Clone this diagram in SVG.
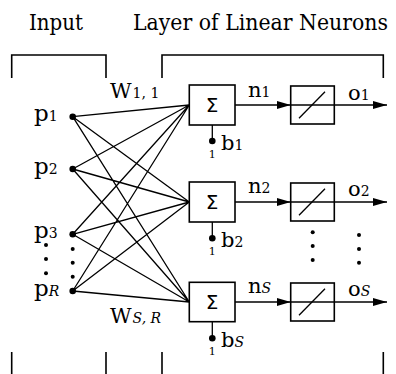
<svg xmlns="http://www.w3.org/2000/svg" width="396" height="374" viewBox="0 0 396 374">
<defs>
<style>
text{font-family:'DejaVu Serif','Liberation Serif',serif;fill:#000}
.big{font-size:23px}
.inp{font-size:23px}
.lab{font-size:21px}
.sub{font-size:14px}
.tiny{font-size:11px}
.it{font-style:italic}
text.sig{font-family:'DejaVu Sans',sans-serif;font-size:20px}
.ln{stroke:#000;stroke-width:1.3;fill:none}
.box{stroke:#000;stroke-width:1.6;fill:#fff}
.br{stroke:#000;stroke-width:1.6;fill:none}
</style>
<marker id="ah" viewBox="0 0 14 8" refX="14" refY="4" markerWidth="14" markerHeight="8" markerUnits="userSpaceOnUse" orient="auto">
<path d="M0,0 L14,4 L0,8 Z" fill="#000"/>
</marker>
</defs>
<rect width="396" height="374" fill="#fff"/>
<g id="titles">
<text class="big" x="29" y="30" textLength="54" lengthAdjust="spacingAndGlyphs">Input</text>
<text class="big" x="133" y="30" textLength="255" lengthAdjust="spacingAndGlyphs">Layer of Linear Neurons</text>
</g>
<g id="brackets">
<path class="br" d="M11.7,78 V55 H106 V78 M162,78 V55 H383.3 V78"/>
<path class="br" d="M11.7,352 V374 M106,352 V374 M162,352 V374 M383.3,352 V374"/>
</g>
<g id="connectors">
<path class="ln" d="M72.7,116.7 L189.3,105 M72.7,116.7 L189.3,202 M72.7,116.7 L189.3,302
M72.7,169 L189.3,105 M72.7,169 L189.3,202 M72.7,169 L189.3,302
M72.7,234.3 L189.3,105 M72.7,234.3 L189.3,202 M72.7,234.3 L189.3,302
M72.7,291 L189.3,105 M72.7,291 L189.3,202 M72.7,291 L189.3,302"/>
<path class="ln" marker-end="url(#ah)" d="M235,105 H290.7"/>
<path class="ln" marker-end="url(#ah)" d="M235,202 H290.7"/>
<path class="ln" marker-end="url(#ah)" d="M235,302 H290.7"/>
<path class="ln" marker-end="url(#ah)" d="M334.3,105 H387"/>
<path class="ln" marker-end="url(#ah)" d="M334.3,202 H387"/>
<path class="ln" marker-end="url(#ah)" d="M334.3,302 H387"/>
<path class="ln" d="M212.3,125 V141 M212.3,222 V238.3 M212.3,321.7 V338.3"/>
</g>
<g id="inputs">
<circle cx="72.7" cy="116.7" r="3.3"/>
<circle cx="72.7" cy="169" r="3.3"/>
<circle cx="72.7" cy="234.3" r="3.3"/>
<circle cx="72.7" cy="291" r="3.3"/>
<circle cx="72.7" cy="249" r="2"/>
<circle cx="72.7" cy="262.7" r="2"/>
<circle cx="72.7" cy="276.7" r="2"/>
<circle cx="46" cy="245" r="2"/>
<circle cx="46" cy="259" r="2"/>
<circle cx="46" cy="273.3" r="2"/>
<text class="inp" x="34" y="121">p<tspan class="sub">1</tspan></text>
<text class="inp" x="34" y="174">p<tspan class="sub">2</tspan></text>
<text class="inp" x="34" y="238">p<tspan class="sub">3</tspan></text>
<text class="inp" x="34" y="296">p<tspan class="sub it">R</tspan></text>
</g>
<g id="weights">
<text class="lab" x="110" y="98">W<tspan class="sub" dx="1">1, 1</tspan></text>
<text class="lab" x="110" y="323">W<tspan class="sub it" dx="1">S, R</tspan></text>
</g>
<g id="neuron1">
<rect class="box" x="189.3" y="85" width="45.7" height="40"/>
<text class="sig" x="212" y="112" text-anchor="middle">Σ</text>
<circle cx="212.3" cy="141" r="3.3"/>
<text class="tiny" x="212.3" y="158" text-anchor="middle">1</text>
<text class="lab" x="221" y="150">b<tspan class="sub">1</tspan></text>
<text class="lab" x="248" y="97">n<tspan class="sub">1</tspan></text>
<rect class="box" x="290.7" y="86" width="43.6" height="38"/>
<path class="ln" d="M290.7,105 H334.3"/>
<path class="ln" stroke-width="1.6" d="M299,118.3 L325,91.7"/>
<text class="lab" x="348" y="100">o<tspan class="sub">1</tspan></text>
</g>
<g id="neuron2">
<rect class="box" x="189.3" y="182" width="45.7" height="40"/>
<text class="sig" x="212" y="209" text-anchor="middle">Σ</text>
<circle cx="212.3" cy="238.3" r="3.3"/>
<text class="tiny" x="212.3" y="255" text-anchor="middle">1</text>
<text class="lab" x="221" y="247">b<tspan class="sub">2</tspan></text>
<text class="lab" x="248" y="193">n<tspan class="sub">2</tspan></text>
<rect class="box" x="290.7" y="183" width="43.6" height="38"/>
<path class="ln" d="M290.7,202 H334.3"/>
<path class="ln" stroke-width="1.6" d="M299,215.3 L325,188.7"/>
<text class="lab" x="348" y="196">o<tspan class="sub">2</tspan></text>
</g>
<g id="dots">
<circle cx="312.7" cy="232.3" r="2"/>
<circle cx="312.7" cy="246" r="2"/>
<circle cx="312.7" cy="260" r="2"/>
<circle cx="359" cy="235" r="2"/>
<circle cx="359" cy="249" r="2"/>
<circle cx="359" cy="262.7" r="2"/>
</g>
<g id="neuronS">
<rect class="box" x="189.3" y="282.3" width="45.7" height="39.4"/>
<text class="sig" x="212" y="309" text-anchor="middle">Σ</text>
<circle cx="212.3" cy="338.3" r="3.3"/>
<text class="tiny" x="212.3" y="355" text-anchor="middle">1</text>
<text class="lab" x="221" y="347">b<tspan class="sub it">S</tspan></text>
<text class="lab" x="248" y="293">n<tspan class="sub it">S</tspan></text>
<rect class="box" x="290.7" y="283" width="43.6" height="38"/>
<path class="ln" d="M290.7,302 H334.3"/>
<path class="ln" stroke-width="1.6" d="M299,315.3 L325,288.7"/>
<text class="lab" x="348" y="296">o<tspan class="sub it">S</tspan></text>
</g>
</svg>
